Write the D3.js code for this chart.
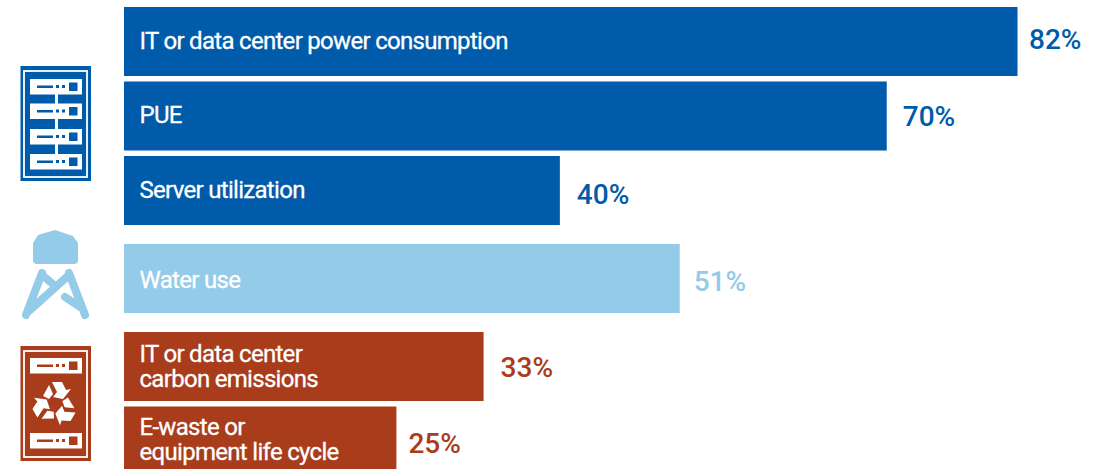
<!DOCTYPE html>
<html>
<head>
<meta charset="utf-8">
<script src="https://cdn.jsdelivr.net/npm/d3@7"></script>
<style>
  html, body { margin: 0; padding: 0; background: #fff; overflow: hidden; }
  svg { display: block; }
  text { font-family: Roboto, "Liberation Sans", sans-serif; }
</style>
</head>
<body>
<svg id="chart" width="1107" height="469"></svg>
<script>
/* data */
var categories = [
  ["IT or data center power consumption"],
  ["PUE"],
  ["Server utilization"],
  ["Water use"],
  ["IT or data center", "carbon emissions"],
  ["E-waste or", "equipment life cycle"]
];
var values = [82, 70, 40, 51, 33, 25];
var groups = ["power", "power", "power", "water", "carbon", "carbon"];

var groupNames = ["power", "water", "carbon"];
var groupColors = ["#005BAA", "#93CBE8", "#A83C1B"];

var svg = d3.select("#chart");
var left = 124, top0 = 7, step = 74.5, barHeight = 69, groupGap = 13.5;

/* labels staan in het origineel niet op een vaste afstand */
var valueDx = [11.5, 16, 17, 14, 17, 12];
var valueDy = [-3, 0, 3.5, 2.5, 0, 2];
var catDy = [0, -0.5, -0.5, 2, 0, -1.5];

var color = d3.scaleOrdinal(groupNames, groupColors);
var x = d3.scaleLinear().domain([0, 82]).range([left, 1017.5]);
var y = d3.scaleBand()
    .domain(d3.range(values.length))
    .range([top0, top0 + step * values.length]);

/* extra ruimte tussen de groepen */
function rowY(i) {
  return y(i) + groupNames.indexOf(groups[i]) * groupGap;
}

var rows = svg.selectAll(".row")
  .data(values)
  .enter().append("g")
    .attr("class", "row")
    .attr("transform", function(d, i) { return "translate(0," + rowY(i) + ")"; });

rows.append("rect")
    .attr("x", x(0))
    .attr("width", function(d) { return x(d) - x(0); })
    .attr("height", barHeight)
    .attr("fill", function(d, i) { return color(groups[i]); });

/* een text per label, regels als tspan */
rows.each(function(d, i) {
  var lines = categories[i];
  var offset = (lines.length === 1 ? 42 : 30) + catDy[i];
  d3.select(this).append("text")
      .attr("class", "cat")
      .attr("y", offset)
      .attr("fill", "#fff")
      .attr("stroke", "#fff")
      .attr("stroke-width", 0.3)
      .attr("font-size", 24)
      .attr("letter-spacing", -0.7)
    .selectAll("tspan")
    .data(lines)
    .enter().append("tspan")
      .attr("x", 139.5)
      .attr("dy", function(l, j) { return j === 0 ? 0 : 24.5; })
      .text(function(l) { return l; });
});

rows.append("text")
    .attr("x", function(d, i) { return x(d) + valueDx[i]; })
    .attr("y", function(d, i) { return 44.5 + valueDy[i]; })
    .attr("fill", function(d, i) { return color(groups[i]); })
    .attr("font-size", 28)
    .attr("font-weight", 500)
    .text(function(d) { return d + "%"; });

/* iconen */
function serverRow(g, yPos, col) {
  g.append("rect").attr("x", 30).attr("y", yPos).attr("width", 52).attr("height", 15.5).attr("fill", "#fff");
  g.append("rect").attr("x", 37).attr("y", yPos + 6.5).attr("width", 16).attr("height", 2.5).attr("fill", col);
  g.append("rect").attr("x", 56).attr("y", yPos + 6).attr("width", 3).attr("height", 3).attr("fill", col);
  g.append("rect").attr("x", 62).attr("y", yPos + 6).attr("width", 3).attr("height", 3).attr("fill", col);
  g.append("rect").attr("x", 69).attr("y", yPos + 3.5).attr("width", 8.5).attr("height", 8.5).attr("fill", col);
}

function cabinet(g, yPos, col) {
  g.append("rect").attr("x", 20.5).attr("y", yPos).attr("width", 70.5).attr("height", 115).attr("fill", col);
  g.append("rect").attr("x", 24).attr("y", yPos + 5).attr("width", 63).attr("height", 106)
    .attr("fill", "none").attr("stroke", "#fff").attr("stroke-width", 1.8);
}

var blue = color("power"), lightBlue = color("water"), brown = color("carbon");

var icon1 = svg.append("g");
cabinet(icon1, 66, blue);
icon1.append("rect").attr("x", 55).attr("y", 90).attr("width", 3).attr("height", 70).attr("fill", "#fff");
[79, 103.5, 129, 154].forEach(function(p) { serverRow(icon1, p, blue); });

var tower = svg.append("g");
tower.append("path")
    .attr("d", "M33,243 L38,235 L55,230 L73,236 L78,243 V260 Q78,264 74,264 H37 Q33,264 33,260 Z")
    .attr("fill", lightBlue);
tower.append("path")
    .attr("d", "M42,273 L26,315 M69,273 L85,315 M42,275 L54,285 M69,275 L29,311 M65,297 L80,307")
    .attr("fill", "none")
    .attr("stroke", lightBlue)
    .attr("stroke-width", 8)
    .attr("stroke-linecap", "round");

var icon3 = svg.append("g");
cabinet(icon3, 346, brown);
[358, 433].forEach(function(p) { serverRow(icon3, p, brown); });
var recycle = icon3.append("g").attr("transform", "translate(55,404)");
[0, 120, 240].forEach(function(a) {
  recycle.append("path")
    .attr("transform", "rotate(" + a + ")")
    .attr("d", "M-12,-8 L-6,-19 L-2,-10 L-6,-5 Z M-3,-22 L7,-22 L11,-14 L16,-15 L8,-5 L-2,-7 L2,-12 Z")
    .attr("fill", "#fff");
});
</script>
</body>
</html>
